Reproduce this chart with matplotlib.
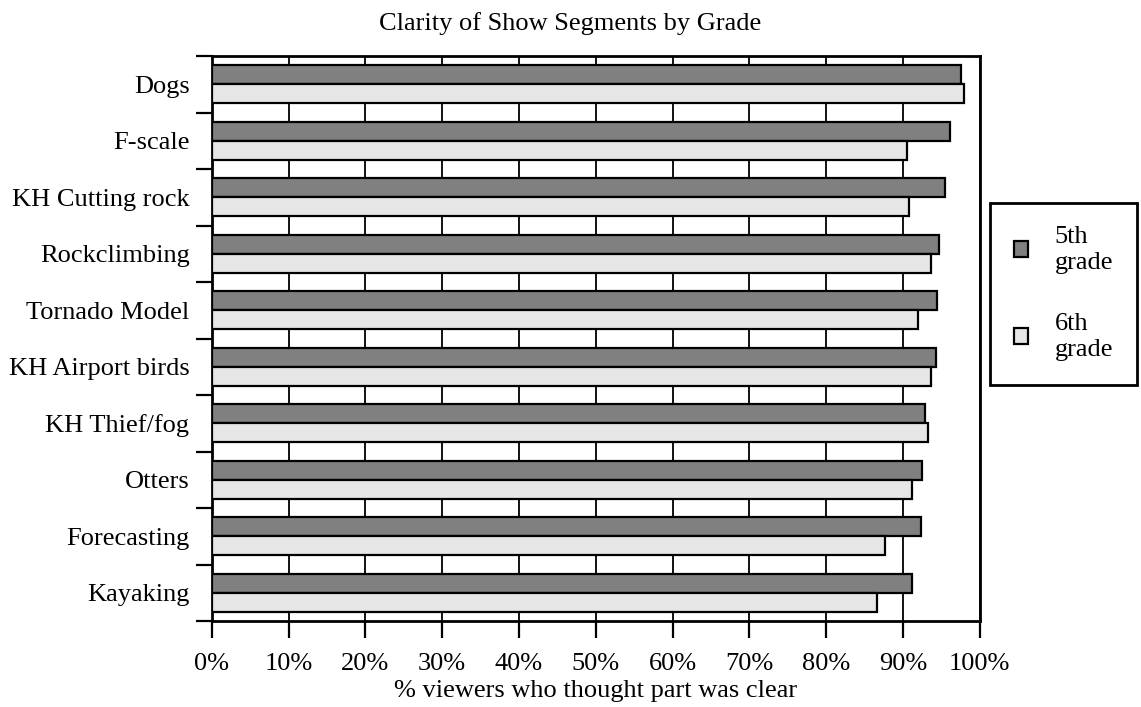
import matplotlib
matplotlib.use("Agg")
import matplotlib.pyplot as plt
from matplotlib.patches import Patch
from matplotlib.ticker import FixedLocator, PercentFormatter
import numpy as np

categories = ["Dogs", "F-scale", "KH Cutting rock", "Rockclimbing", "Tornado Model",
              "KH Airport birds", "KH Thief/fog", "Otters", "Forecasting", "Kayaking"]
grade5 = [97.5, 96.1, 95.5, 94.7, 94.4, 94.3, 92.9, 92.5, 92.3, 91.2]
grade6 = [97.9, 90.5, 90.8, 93.6, 92.0, 93.7, 93.3, 91.2, 87.7, 86.6]
series_labels = ["5th\ngrade", "6th\ngrade"]
xticks = [0, 10, 20, 30, 40, 50, 60, 70, 80, 90, 100]

plt.rcParams['font.family'] = ['Liberation Serif', 'DejaVu Serif']
FS = 19

fig = plt.figure(figsize=(11.41, 7.07), dpi=100)
ax = fig.add_axes([211.7/1141, 1-621/707, (979.7-211.7)/1141, (621-56)/707])

y = np.arange(len(categories))
h = 0.335
ax.barh(y - h/2, grade5, height=h, color="#808080", edgecolor="black", linewidth=1.6, zorder=3)
ax.barh(y + h/2, grade6, height=h, color="#e6e6e6", edgecolor="black", linewidth=1.6, zorder=3)

ax.set_xlim(0, 100)
ax.set_ylim(len(categories) - 0.5, -0.5)

ax.xaxis.set_major_locator(FixedLocator(xticks))
ax.xaxis.set_major_formatter(PercentFormatter(decimals=0))
ax.grid(axis="x", color="black", linewidth=1.3, zorder=1)
ax.set_axisbelow(True)
ax.tick_params(axis="x", direction="out", length=12, width=1.6, pad=11, labelsize=FS, colors="black")

ax.set_yticks(y)
ax.set_yticklabels(categories)
ax.yaxis.set_minor_locator(FixedLocator(np.arange(-0.5, len(categories), 1.0)))
ax.tick_params(axis="y", which="major", length=0, pad=16, labelsize=FS)
ax.tick_params(axis="y", which="minor", direction="out", length=11.5, width=1.6)

for s in ax.spines.values():
    s.set_linewidth(2.0)
    s.set_color("black")

ax.set_xlabel("% viewers who thought part was clear", fontsize=FS, labelpad=4)
fig.text(0.5, 1 - 24/707, "Clarity of Show Segments by Grade", ha="center", va="center", fontsize=FS)

handles = [Patch(facecolor="#808080", edgecolor="black", linewidth=1.6),
           Patch(facecolor="#e6e6e6", edgecolor="black", linewidth=1.6)]
leg = fig.legend(handles, series_labels, loc="upper left",
                 bbox_to_anchor=(990/1141, 1 - 202.7/707),
                 fontsize=FS, frameon=True, fancybox=False, framealpha=1,
                 edgecolor="black", borderpad=0.9, handlelength=0.55, handleheight=0.55,
                 handletextpad=1.0, labelspacing=1.5, borderaxespad=0)
leg.get_frame().set_linewidth(2.0)

fig.savefig("out.png", dpi=100)
